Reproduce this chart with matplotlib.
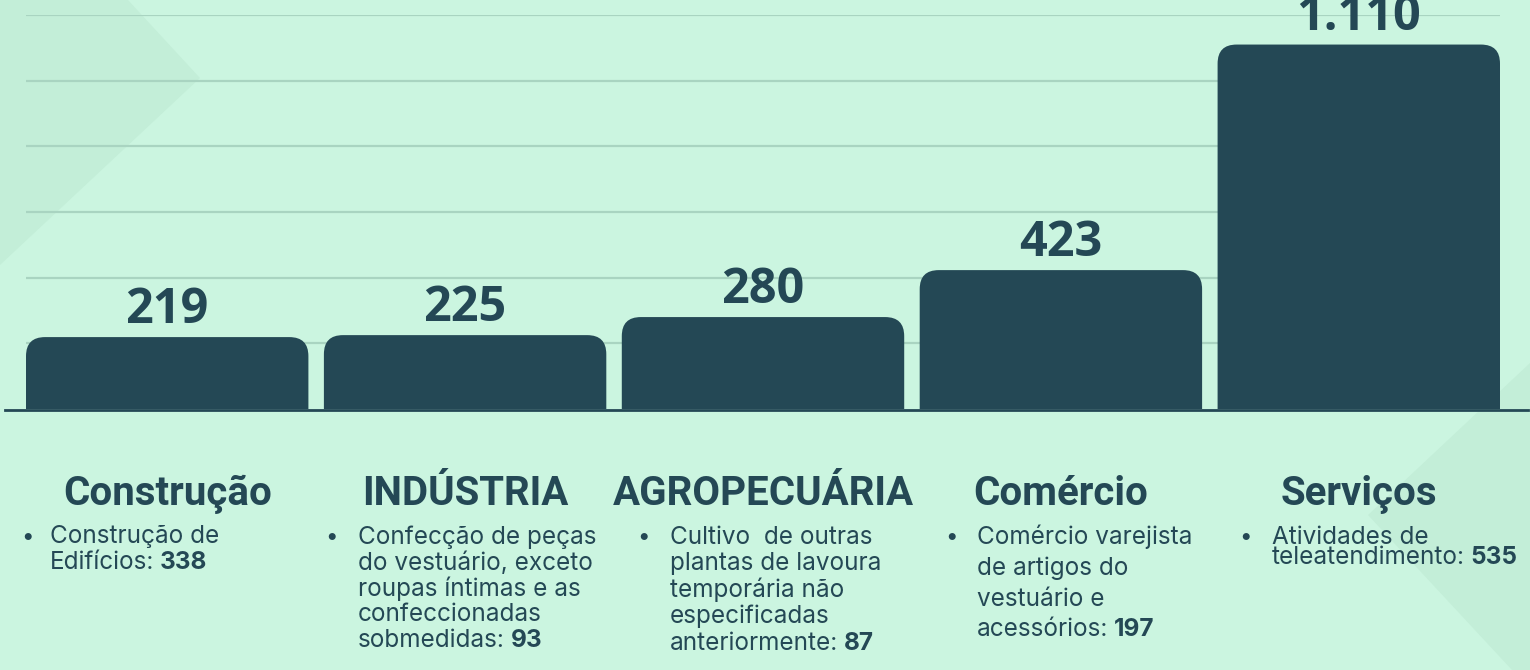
import matplotlib
matplotlib.use("Agg")
import matplotlib.pyplot as plt
from matplotlib.patches import FancyBboxPatch, Polygon
from matplotlib.lines import Line2D
import matplotlib.transforms as mtransforms

# ---- data ----
categories = ["Construção", "INDÚSTRIA", "AGROPECUÁRIA", "Comércio", "Serviços"]
values = [219, 225, 280, 423, 1110]
value_labels = ["219", "225", "280", "423", "1.110"]
detail_lines = [
    ["Construção de", "Edifícios:"],
    ["Confecção de peças", "do vestuário, exceto", "roupas íntimas e as",
     "confeccionadas", "sobmedidas:"],
    ["Cultivo  de outras", "plantas de lavoura", "temporária não",
     "especificadas", "anteriormente:"],
    ["Comércio varejista", "de artigos do", "vestuário e", "acessórios:"],
    ["Atividades de", "teleatendimento:"],
]
detail_values = ["338", "93", "87", "197", "535"]
yticks = [200, 400, 600, 800, 1000, 1200]

# ---- style ----
W, H = 1530, 670
BG = "#CBF5E0"
TRI = "#C3EED8"
DARK = "#244855"
GRID = "#A9D4C1"

fig = plt.figure(figsize=(W / 100, H / 100), dpi=100)
fig.patch.set_facecolor(BG)

def fx(px):
    return px / W

def fy(py):
    return 1 - py / H

# background decorative shapes
fig.patches.append(Polygon([(fx(0), fy(0)), (fx(128), fy(0)), (fx(200), fy(78)), (fx(0), fy(265))],
                           closed=True, transform=fig.transFigure, facecolor=TRI, edgecolor="none", zorder=-5))
fig.patches.append(Polygon([(fx(1530), fy(363)), (fx(1368), fy(515)), (fx(1512), fy(670)), (fx(1530), fy(670))],
                           closed=True, transform=fig.transFigure, facecolor=TRI, edgecolor="none", zorder=-5))

ax_left, ax_right, ax_top, ax_bot = 26, 1500, 15, 409
ax = fig.add_axes([fx(ax_left), fy(ax_bot), (ax_right - ax_left) / W, (ax_bot - ax_top) / H])
ax.set_facecolor("none")
ax.patch.set_visible(False)
for s in ax.spines.values():
    s.set_visible(False)

n = len(values)
bw = 0.948
ax.set_xlim(-bw / 2, n - 1 + bw / 2)
ax.set_ylim(0, 1200)
ax.set_yticks(yticks)
ax.set_xticks([])
ax.tick_params(left=False, labelleft=False)
ax.yaxis.grid(True, color=GRID, linewidth=1.6)
ax.set_axisbelow(True)

bars = ax.bar(range(n), values, width=bw, color=DARK)

# convert rounding radius in px to data units
px_per_x = (ax_right - ax_left) / (n - 1 + bw)
px_per_y = (ax_bot - ax_top) / 1200
r_px = 19
rx = r_px / px_per_x
ry = r_px / px_per_y
for rect in bars:
    rect.set_visible(False)
    x0, w, h = rect.get_x(), rect.get_width(), rect.get_height()
    ext = 200
    p = FancyBboxPatch((x0, -ext), w, h + ext,
                       boxstyle=f"round,pad=0,rounding_size={rx}",
                       mutation_aspect=ry / rx,
                       facecolor=DARK, edgecolor="none", zorder=3, clip_on=True)
    ax.add_patch(p)

# value labels
for i, (v, lab) in enumerate(zip(values, value_labels)):
    ax.annotate(lab, xy=(i, v), xytext=(0, 1.5), textcoords="offset points",
                ha="center", va="bottom", fontsize=35, fontweight="bold",
                family="Open Sans", color=DARK, annotation_clip=False)

# baseline
fig.lines.append(Line2D([fx(5), fx(1528)], [fy(410), fy(410)], transform=fig.transFigure,
                        color=DARK, linewidth=2, zorder=5))

# category titles
blend = mtransforms.blended_transform_factory(ax.transData, fig.transFigure)
for i, c in enumerate(categories):
    ax.text(i, fy(494), c, transform=blend, ha="center", va="center",
            fontsize=29, fontweight="bold", family="Roboto", color=DARK, clip_on=False)

# bullet details
bullet_x = [27, 332, 644, 952, 1245]
text_x = [50, 358, 670, 977, 1272]
line_gap = [25.5, 25.8, 26.5, 31, 21]
first_y = 537
fs = 17.5
for i in range(n):
    fig.text(fx(bullet_x[i]), fy(first_y), "•", ha="center", va="center",
             fontsize=16, family="Inter", color=DARK)
    lines = detail_lines[i]
    for j, ln in enumerate(lines):
        y = first_y + j * line_gap[i]
        t = fig.text(fx(text_x[i]), fy(y), ln, ha="left", va="center",
                     fontsize=fs, family="Inter", color=DARK)
        if j == len(lines) - 1:
            ax.annotate(detail_values[i], xy=(1, 0.5), xycoords=t,
                        xytext=(4, 0), textcoords="offset points",
                        ha="left", va="center", fontsize=fs,
                        fontweight="bold", family="Inter", color=DARK,
                        annotation_clip=False)

fig.savefig("out.png", dpi=100, facecolor=BG)
